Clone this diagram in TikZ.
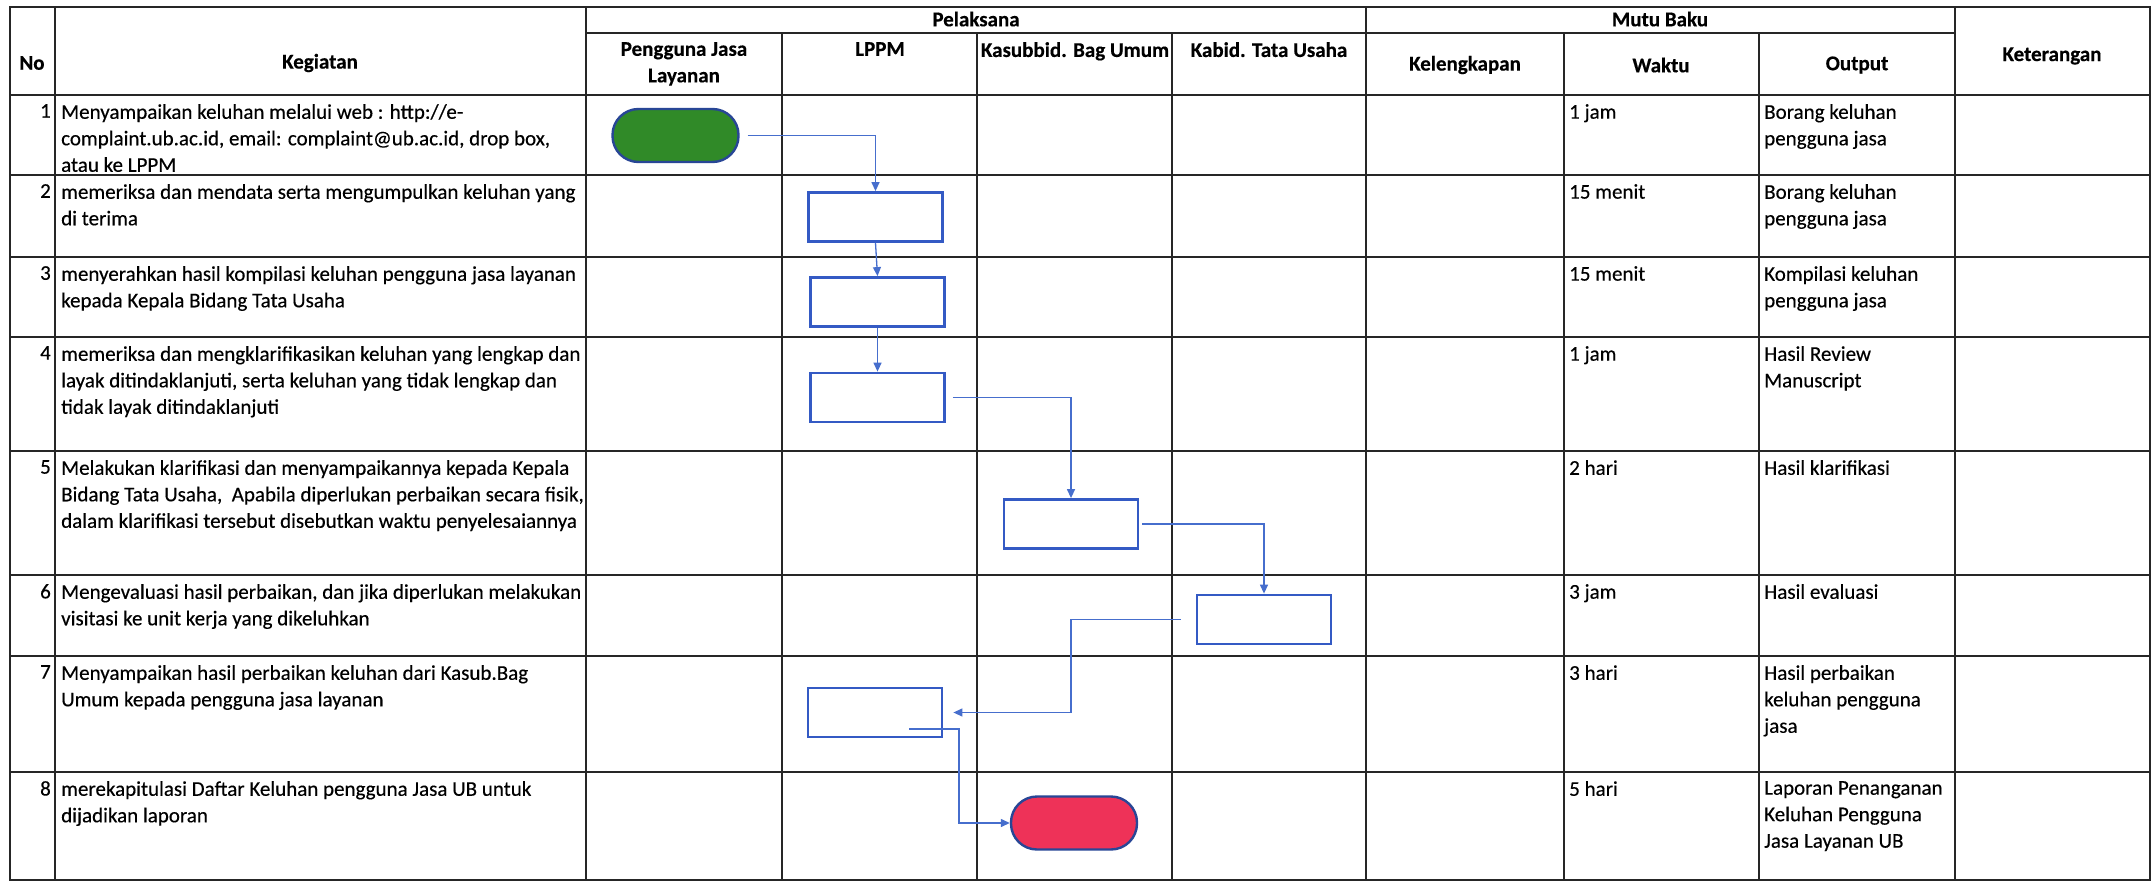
\documentclass[tikz,border=0pt]{standalone}
\usepackage{fontspec}
\setmainfont{Carlito}[FakeBold=0.35]
\usetikzlibrary{positioning, arrows.meta}

\definecolor{boxblue}{RGB}{52,90,196}
\definecolor{lineblue}{RGB}{70,110,205}
\definecolor{edgeblue}{RGB}{40,70,150}
\definecolor{startgreen}{RGB}{48,138,40}
\definecolor{endred}{RGB}{238,50,88}

\begin{document}
\begin{tikzpicture}[x=1pt, y=-1pt, font=\fontsize{21}{26.5}\selectfont,
	grid/.style = {line width=1.7pt, draw=black!85},
	head/.style = {font=\fontsize{21}{26.5}\selectfont\bfseries, align=center, inner sep=0pt},
	cell/.style = {anchor=north west, inner sep=0pt, align=left},
	num/.style = {anchor=north east, inner sep=0pt},
	task/.style = {rectangle, draw=boxblue, fill=white, line width=2.8pt,
	minimum width=134pt, minimum height=49pt},
	terminal/.style = {rectangle, rounded corners=26pt, draw=edgeblue, line width=2.4pt,
	minimum width=126pt, minimum height=53pt},
	flow/.style = {draw=lineblue, line width=1.3pt, -{Triangle[length=9pt,width=8pt]}} ]

  \useasboundingbox (0,0) rectangle (2156,883);
  \fill [white] (0,0) rectangle (2156,883);

  \draw [grid] (10,7) rectangle (2150,880);
  \draw [grid] (586,33) -- (1955,33);
  \draw [grid] (10,95) -- (2150,95) (10,175) -- (2150,175) (10,257) -- (2150,257)
	(10,337) -- (2150,337) (10,451) -- (2150,451) (10,575) -- (2150,575)
	(10,656) -- (2150,656) (10,772) -- (2150,772);
  \draw [grid] (55,7) -- (55,880) (586,7) -- (586,880) (1366,7) -- (1366,880)
	(1955,7) -- (1955,880);
  \draw [grid] (782,33) -- (782,880) (977,33) -- (977,880) (1172,33) -- (1172,880)
	(1564,33) -- (1564,880) (1759,33) -- (1759,880);

  \node [name=hno, head] at (32,63) {No};
  \node [name=hkegiatan, head] at (320,63) {Kegiatan};
  \node [name=hpelaksana, head] at (976,19) {Pelaksana};
  \node [name=hmutu, head] at (1660,19) {Mutu Baku};
  \node [name=hket, head] at (2052,56) {Keterangan};
  \node [name=hpengguna, head, anchor=north] at (684,42) {Pengguna Jasa\\Layanan};
  \node [name=hlppm, head, anchor=north] at (880,42) {LPPM};
  \node [name=hkasub, head, anchor=north] at (1075,42) {Kasubbid. Bag Umum};
  \node [name=hkabid, head, anchor=north] at (1269,42) {Kabid. Tata Usaha};
  \node [name=hlengkap, head] at (1465,65) {Kelengkapan};
  \node [name=hwaktu, head] at (1661,65) {Waktu};
  \node [name=houtput, head] at (1857,65) {Output};

  \node [name=no1, num] at (51,104) {1};
  \node [name=no2, num] at (51,184) {2};
  \node [name=no3, num] at (51,266) {3};
  \node [name=no4, num] at (51,346) {4};
  \node [name=no5, num] at (51,460) {5};
  \node [name=no6, num] at (51,584) {6};
  \node [name=no7, num] at (51,665) {7};
  \node [name=no8, num] at (51,781) {8};

  \node [name=keg1, cell] at (61,104) {Menyampaikan keluhan melalui web : http://e-\\
	complaint.ub.ac.id, email: complaint@ub.ac.id, drop box,\\atau ke LPPM};
  \node [name=keg2, cell] at (61,184) {memeriksa dan mendata serta mengumpulkan keluhan yang\\di terima};
  \node [name=keg3, cell] at (61,266) {menyerahkan hasil kompilasi keluhan pengguna jasa layanan\\
	kepada Kepala Bidang Tata Usaha};
  \node [name=keg4, cell] at (61,346) {memeriksa dan mengklarifikasikan keluhan yang lengkap dan\\
	layak ditindaklanjuti, serta keluhan yang tidak lengkap dan\\tidak layak ditindaklanjuti};
  \node [name=keg5, cell] at (61,460) {Melakukan klarifikasi dan menyampaikannya kepada Kepala\\
	Bidang Tata Usaha,~ Apabila diperlukan perbaikan secara fisik,\\
	dalam klarifikasi tersebut disebutkan waktu penyelesaiannya};
  \node [name=keg6, cell] at (61,584) {Mengevaluasi hasil perbaikan, dan jika diperlukan melakukan\\
	visitasi ke unit kerja yang dikeluhkan};
  \node [name=keg7, cell] at (61,665) {Menyampaikan hasil perbaikan keluhan dari Kasub.Bag\\
	Umum kepada pengguna jasa layanan};
  \node [name=keg8, cell] at (61,781) {merekapitulasi Daftar Keluhan pengguna Jasa UB untuk\\dijadikan laporan};

  \node [name=waktu1, cell] at (1569,104) {1 jam};
  \node [name=waktu2, cell] at (1569,184) {15 menit};
  \node [name=waktu3, cell] at (1569,266) {15 menit};
  \node [name=waktu4, cell] at (1569,346) {1 jam};
  \node [name=waktu5, cell] at (1569,460) {2 hari};
  \node [name=waktu6, cell] at (1569,584) {3 jam};
  \node [name=waktu7, cell] at (1569,665) {3 hari};
  \node [name=waktu8, cell] at (1569,781) {5 hari};

  \node [name=output1, cell] at (1764,104) {Borang keluhan\\pengguna jasa};
  \node [name=output2, cell] at (1764,184) {Borang keluhan\\pengguna jasa};
  \node [name=output3, cell] at (1764,266) {Kompilasi keluhan\\pengguna jasa};
  \node [name=output4, cell] at (1764,346) {Hasil Review\\Manuscript};
  \node [name=output5, cell] at (1764,460) {Hasil klarifikasi};
  \node [name=output6, cell] at (1764,584) {Hasil evaluasi};
  \node [name=output7, cell] at (1764,665) {Hasil perbaikan\\keluhan pengguna\\jasa};
  \node [name=output8, cell] at (1764,781) {Laporan Penanganan\\Keluhan Pengguna\\Jasa Layanan UB};

  \node [name=keluhan, terminal, fill=startgreen] at (675.5,135.5) {};
  \node [name=pendataan, task] at (875.5,217) {};
  \node [name=kompilasi, task] at (877.5,302) {};
  \node [name=review, task] at (877.5,397.5) {};
  \node [name=klarifikasi, task] at (1071,524) {};
  \node [name=evaluasi, task] at (1264,619.5) {};
  \node [name=perbaikan, task] at (875,712.5) {};
  \node [name=laporan, terminal, fill=endred] at (1074,823) {};
  \coordinate (keluar) at (909,729);

  \draw [flow, shorten <=8pt] (keluhan.east) -| (pendataan.north);
  \draw [flow] (pendataan.south) -- (kompilasi.north);
  \draw [flow] (kompilasi.south) -- (review.north);
  \draw [flow, shorten <=7pt] (review.east) -| (klarifikasi.north);
  \draw [flow, shorten <=3pt] (klarifikasi.east) -| (evaluasi.north);
  \draw [flow, shorten <=15pt, shorten >=10pt] (evaluasi.west)
	-- (evaluasi.west -| klarifikasi.center) |- (perbaikan.east);
  \draw [flow] (keluar) -- ++(50,0) |- (laporan.west);
\end{tikzpicture}
\end{document}
